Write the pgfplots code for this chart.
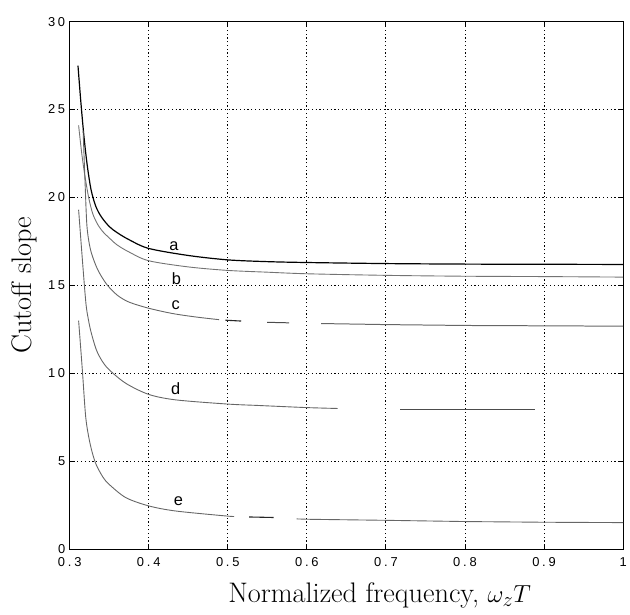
\documentclass[border=0pt]{standalone}
\usepackage{pgfplots}
\pgfplotsset{compat=1.18}
\usepackage{fontspec}
\newfontfamily\tickfont[LetterSpace=22]{Liberation Sans}
\newfontfamily\labfont{Liberation Sans}
\begin{document}
\begin{tikzpicture}
\begin{axis}[
  scale only axis,
  width=556bp, height=530bp,
  xmin=0.3, xmax=1, ymin=0, ymax=30,
  xtick={0.3,0.4,0.5,0.6,0.7,0.8,0.9,1},
  xticklabels={0.3,0.4,0.5,0.6,0.7,0.8,0.9,1},
  ytick={0,5,10,15,20,25,30},
  tick align=inside,
  major tick length=5bp,
  tick style={black, line width=0.9bp},
  axis line style={line width=1bp},
  grid=major,
  grid style={black, line width=0.9bp, dash pattern=on 1.2bp off 2.6bp},
  /pgf/number format/assume math mode=true,
  tick label style={font=\tickfont\fontsize{13}{14}\selectfont},
  xticklabel style={yshift=-5bp},
  yticklabel style={xshift=-1bp},
  every axis x label/.style={at={(axis description cs:0.56,-0.088)}, anchor=center},
  every axis y label/.style={at={(axis description cs:-0.082,0.5)}, rotate=90, anchor=center},
  xlabel={\fontsize{28.5}{32}\selectfont Normalized frequency, $\omega_z T$},
  ylabel={\fontsize{28.5}{32}\selectfont Cutoff slope},
]
% a
\addplot[black, line width=1.2bp, smooth, tension=0.5] coordinates {
(0.3105,27.5) (0.314,25.5) (0.318,23.5) (0.322,21.9) (0.327,20.45) (0.333,19.5)
(0.34,18.9) (0.35,18.35) (0.36,18.0) (0.375,17.6) (0.4,17.1) (0.45,16.7)
(0.5,16.45) (0.55,16.35) (0.6,16.3) (0.7,16.24) (0.8,16.21) (0.9,16.2) (1.0,16.19)};
% b
\addplot[black!55, line width=0.9bp, smooth, tension=0.5] coordinates {
(0.3113,24.1) (0.315,22.6) (0.319,21.3) (0.324,20.0) (0.329,19.1) (0.335,18.5) (0.342,18.05)
(0.35,17.7) (0.36,17.3) (0.375,16.9) (0.4,16.4) (0.45,16.05) (0.5,15.85) (0.55,15.75)
(0.6,15.66) (0.7,15.57) (0.8,15.52) (0.9,15.5) (1.0,15.47)};
% c
\addplot[black!60, line width=0.9bp, smooth, tension=0.5] coordinates {
(0.317,23.8) (0.3195,20.8) (0.3218,18.4) (0.3255,17.2) (0.33,16.5) (0.3365,15.8) (0.347,15.05)
(0.36,14.45) (0.375,14.05) (0.4,13.7) (0.43,13.4) (0.46,13.2) (0.489,13.05)};
\addplot[black!85, line width=1.1bp] coordinates {(0.497,13.02) (0.517,12.97)};
\addplot[black!70, line width=1bp] coordinates {(0.5496,12.9) (0.5777,12.87)};
\addplot[black!60, line width=1bp] coordinates {
(0.618,12.83) (0.7,12.77) (0.8,12.72) (0.9,12.7) (1.0,12.68)};
% d
\addplot[black!60, line width=0.9bp, smooth, tension=0.5] coordinates {
(0.3113,19.3) (0.316,16.5) (0.3205,14.0) (0.3235,13.1) (0.327,12.35)
(0.3336,11.35) (0.341,10.7) (0.35,10.2) (0.371,9.43) (0.4,8.8) (0.434,8.49) (0.5,8.25) (0.539,8.17)
(0.6,8.05) (0.639,8.0)};
\addplot[black!70, line width=1bp] coordinates {(0.718,7.92) (0.888,7.92)};
% e
\addplot[black!60, line width=0.9bp, smooth, tension=0.5] coordinates {
(0.3113,13.0) (0.316,10.2) (0.3201,7.6) (0.324,6.4) (0.3285,5.5) (0.3336,4.8) (0.342,4.1) (0.35,3.68)
(0.371,2.93) (0.4,2.46) (0.434,2.17) (0.497,1.89) (0.508,1.86)};
\addplot[black!85, line width=1.1bp] coordinates {(0.527,1.83) (0.558,1.8)};
\addplot[black!60, line width=0.9bp] coordinates {
(0.587,1.72) (0.6,1.70) (0.7,1.64) (0.8,1.57) (0.9,1.53) (1.0,1.51)};
% labels
\node[font=\labfont\fontsize{16.5}{17}\selectfont] at (axis cs:0.432,17.25) {a};
\node[font=\labfont\fontsize{16.5}{17}\selectfont] at (axis cs:0.435,15.4) {b};
\node[font=\labfont\fontsize{16.5}{17}\selectfont] at (axis cs:0.434,13.87) {c};
\node[font=\labfont\fontsize{16.5}{17}\selectfont] at (axis cs:0.434,9.15) {d};
\node[font=\labfont\fontsize{16.5}{17}\selectfont] at (axis cs:0.4376,2.74) {e};
\end{axis}
\path (current axis.south west) +(-70bp,-65.3bp) (current axis.north east) +(4bp,21.7bp);
\end{tikzpicture}
\end{document}
